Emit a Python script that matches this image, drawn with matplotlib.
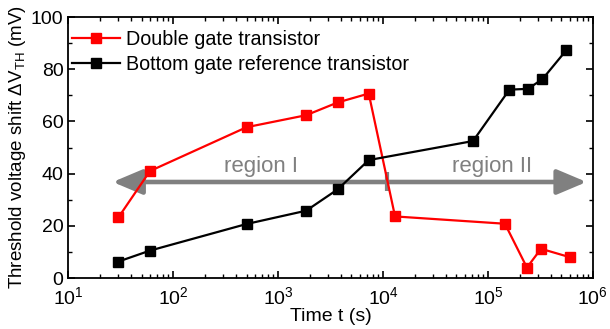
import matplotlib
matplotlib.use('Agg')
import matplotlib.pyplot as plt
from matplotlib.patches import FancyArrowPatch
from matplotlib.ticker import MultipleLocator, LogLocator, NullFormatter

plt.rcParams['font.family'] = ['Liberation Sans', 'DejaVu Sans']
plt.rcParams['mathtext.fontset'] = 'custom'
plt.rcParams['mathtext.rm'] = 'Liberation Sans'
plt.rcParams['mathtext.it'] = 'Liberation Sans:italic'

# stress time (s) and threshold voltage shift (mV)
t_double = [30, 60, 500, 1850, 3700, 7300, 13000, 145000, 235000, 320000, 600000]
dv_double = [23.2, 41.0, 57.8, 62.4, 67.3, 70.7, 23.6, 20.8, 4.0, 11.2, 8.0]

t_bottom = [30, 60, 500, 1850, 3700, 7300, 72000, 160000, 240000, 330000, 560000]
dv_bottom = [6.3, 10.5, 20.7, 25.8, 34.0, 45.2, 52.5, 72.2, 72.5, 76.2, 87.4]

label_double = 'Double gate transistor'
label_bottom = 'Bottom gate reference transistor'

fig, ax = plt.subplots(figsize=(6.1, 3.29), dpi=100)
fig.subplots_adjust(left=0.112, right=0.972, top=0.948, bottom=0.155)

ax.plot(t_double, dv_double, '-s', color='#ff0000', lw=1.6, ms=7, label=label_double, zorder=3)
ax.plot(t_bottom, dv_bottom, '-s', color='#000000', lw=1.6, ms=7, label=label_bottom, zorder=3)

# grey arrow splitting the two regions
grey = '#808080'
arr = FancyArrowPatch((26.5, 36.8), (8.7e5, 36.8),
                      arrowstyle='<|-|>,head_length=0.9,head_width=0.38',
                      mutation_scale=20, color=grey, lw=3.3, zorder=1,
                      shrinkA=0, shrinkB=0)
ax.add_patch(arr)
ax.plot([1.1e4, 1.1e4], [33.3, 40.5], color=grey, lw=3, solid_capstyle='butt', zorder=1)
ax.text(680, 40.8, 'region I', color=grey, fontsize=16, ha='center', va='baseline')
ax.text(1.1e5, 40.8, 'region II', color=grey, fontsize=16, ha='center', va='baseline')

ax.set_xscale('log')
ax.set_xlim(10, 1e6)
ax.set_ylim(0, 100)
ax.yaxis.set_major_locator(MultipleLocator(20))
ax.yaxis.set_minor_locator(MultipleLocator(10))
ax.xaxis.set_minor_locator(LogLocator(base=10, subs=range(2, 10), numticks=20))
ax.xaxis.set_minor_formatter(NullFormatter())

ax.tick_params(which='both', direction='in', top=True, right=True, labelsize=14)
ax.tick_params(which='major', length=5, width=1.2)
ax.tick_params(which='minor', length=3, width=1)
ax.tick_params(axis='x', which='major', pad=6)
for s in ax.spines.values():
    s.set_linewidth(1.3)

ax.set_xlabel('Time t (s)', fontsize=14, labelpad=0)
ax.set_ylabel(r'Threshold voltage shift $\Delta$V$_{\mathrm{TH}}$ (mV)', fontsize=13.5, labelpad=2)

ax.legend(loc='upper left', bbox_to_anchor=(0.0, 0.966), frameon=False, fontsize=14.2,
          handlelength=2.4, borderaxespad=0, labelspacing=0.3, handletextpad=0.3,
          borderpad=0.2)

fig.savefig('out.png', dpi=100)
